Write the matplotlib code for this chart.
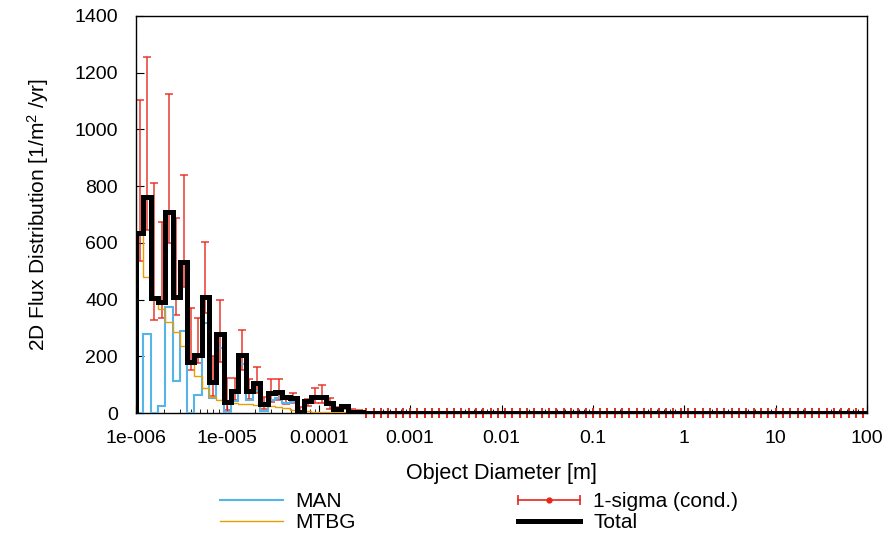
import numpy as np
import matplotlib
matplotlib.use("Agg")
import matplotlib.pyplot as plt
from matplotlib.lines import Line2D
from matplotlib.legend_handler import HandlerLine2D

plt.rcParams['font.family'] = ['Liberation Sans', 'DejaVu Sans']
plt.rcParams['mathtext.fontset'] = 'custom'
plt.rcParams['mathtext.rm'] = 'Liberation Sans'
plt.rcParams['mathtext.it'] = 'Liberation Sans:italic'

# 100 log-spaced diameter bins from 1e-6 m to 100 m (12.5 per decade)
n_bins = 100
bin_edges = np.logspace(-6, 2, n_bins + 1)

# flux per bin [1/m^2/yr]; bins past ~3e-4 m are empty
man = [0, 279, 0, 25, 375, 114, 290, 0, 63, 317,
       52, 229, 3, 44, 173, 46, 77, 7, 46, 53,
       37, 40, 0, 36, 53, 53, 32, 13, 23, 5, 2]
mtbg = [636, 481, 400, 368, 322, 287, 236, 175, 130, 87,
        58, 46, 35, 34, 32, 32, 28, 25, 24, 22,
        18, 12, 5, 6, 5, 5, 3, 2, 2, 0, 0]
total = [636, 763, 405, 393, 708, 410, 531, 181, 204, 410,
         110, 279, 38, 78, 205, 78, 105, 32, 70, 75,
         55, 52, 5, 42, 58, 58, 35, 15, 25, 5, 2]

# 1-sigma (conditional) band, lower and upper ends
sigma_lo = [536, 645, 328, 335, 600, 345, 445, 152, 176, 352,
            60, 180, 10, 45, 150, 50, 70, 15, 40, 45,
            30, 35, 0, 25, 35, 35, 15, 5, 15, 0, 0]
sigma_hi = [1104, 1256, 810, 675, 1124, 686, 840, 371, 334, 602,
            200, 397, 124, 124, 293, 119, 161, 55, 119, 120,
            60, 69, 20, 50, 87, 98, 52, 20, 29, 15, 10]

x_ticks = [1e-6, 1e-5, 1e-4, 1e-3, 1e-2, 1e-1, 1, 10, 100]
x_tick_labels = ['1e-006', '1e-005', '0.0001', '0.001', '0.01', '0.1', '1', '10', '100']
y_ticks = [0, 200, 400, 600, 800, 1000, 1200, 1400]


def pad(v):
    v = np.asarray(v, dtype=float)
    return np.concatenate([v, np.zeros(n_bins - len(v))])


man, mtbg, total = pad(man), pad(mtbg), pad(total)
lo, hi = pad(sigma_lo), pad(sigma_hi)
centers = np.sqrt(bin_edges[:-1] * bin_edges[1:])

c_man = '#56B4E9'
c_mtbg = '#E69F00'
c_sig = '#E8261A'

fig = plt.figure(figsize=(8.94, 5.33), dpi=100)
ax = fig.add_axes([136 / 894, 1 - 413 / 533, 731 / 894, 397 / 533])

filled = (hi > 0)
ax.errorbar(centers[filled], total[filled],
            yerr=[total[filled] - lo[filled], hi[filled] - total[filled]],
            fmt='none', ecolor=c_sig, elinewidth=1.1, capsize=2.6, capthick=1.1,
            alpha=0.9, zorder=2)
# empty bins still get a small red mark on the axis
ax.plot(centers[~filled], total[~filled], '|', color=c_sig, ms=7, mew=1.4,
        clip_on=False, zorder=2)

ax.stairs(man, bin_edges, color=c_man, lw=1.5, zorder=3)
ax.stairs(mtbg, bin_edges, color=c_mtbg, lw=1.0, zorder=3)
ax.stairs(total, bin_edges, color='black', lw=3.6, zorder=4)

ax.set_xscale('log')
ax.set_xlim(1e-6, 100)
ax.set_ylim(0, 1400)
ax.set_xticks(x_ticks)
ax.set_xticklabels(x_tick_labels)
ax.set_yticks(y_ticks)
ax.tick_params(which='both', direction='in', labelsize=14)
ax.tick_params(axis='x', which='major', length=6, pad=12)
ax.tick_params(axis='x', which='minor', length=3)
ax.tick_params(axis='y', length=6, pad=13)
for s in ax.spines.values():
    s.set_linewidth(1.0)

ax.set_xlabel('Object Diameter [m]', fontsize=15.5)
ax.set_ylabel('2D Flux Distribution [1/m$^{2}$ /yr]', fontsize=15)
ax.xaxis.set_label_coords(0.5, (413 - 463) / 397)
ax.yaxis.set_label_coords((51 - 136) / 731, 0.5)

# legend: errorbar drawn sideways, caps at the ends and a dot in the middle
h_man = Line2D([], [], color=c_man, lw=1.5)
h_mtbg = Line2D([], [], color=c_mtbg, lw=1.0)
h_caps = Line2D([], [], color=c_sig, lw=1.2, marker='|', ms=7, mew=1.2)
h_dot = Line2D([], [], color=c_sig, ls='none', marker='o', ms=3.5)
h_tot = Line2D([], [], color='black', lw=3.6)
fig.legend([h_man, h_mtbg, (h_caps, h_dot), h_tot],
           ['MAN', 'MTBG', '1-sigma (cond.)', 'Total'],
           ncol=2, loc='upper left', bbox_to_anchor=(210 / 894, 1 - 482 / 533),
           frameon=False, borderpad=0, fontsize=15, handlelength=2.98,
           handletextpad=0.62, columnspacing=7.8, labelspacing=0.1,
           handler_map={h_caps: HandlerLine2D(numpoints=2, marker_pad=0)})

fig.savefig('out.png', dpi=100)
